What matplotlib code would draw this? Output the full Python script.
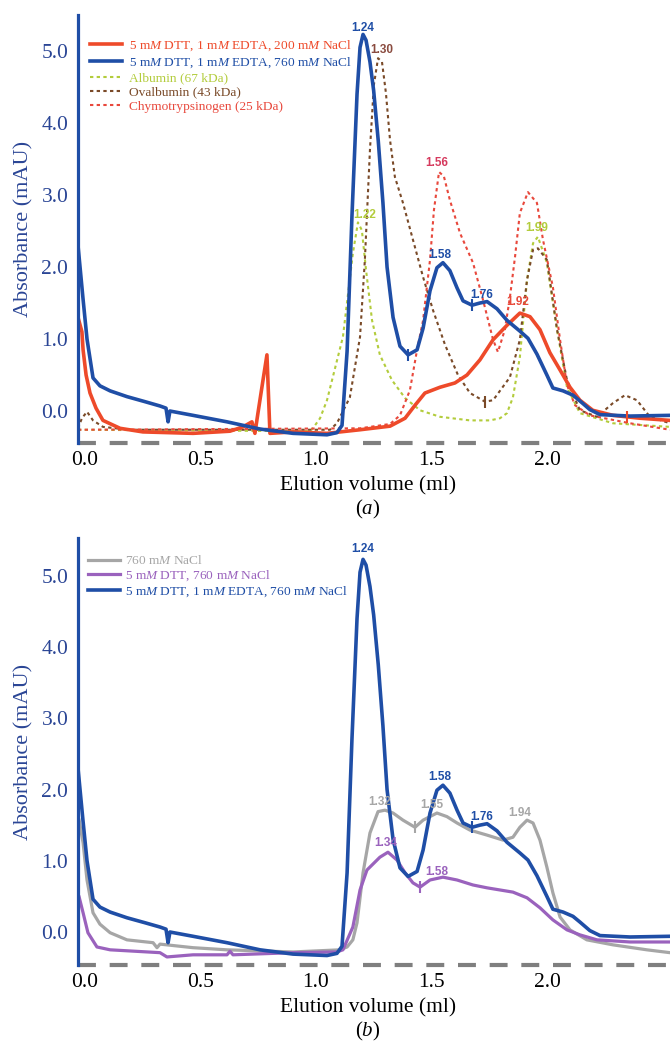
import matplotlib.pyplot as plt
import matplotlib.transforms as mtransforms
import numpy as np

plt.rcParams['font.family'] = ['Liberation Serif', 'DejaVu Serif']
plt.rcParams['mathtext.fontset'] = 'custom'
plt.rcParams['mathtext.rm'] = 'Liberation Serif'
plt.rcParams['mathtext.it'] = 'Liberation Serif:italic'

# ---- data (elution volume in ml, absorbance in mAU) ----
# 5 mM DTT, 1 mM EDTA, 760 mM NaCl (shown in both panels)
vol_blue = [0.0, 0.022, 0.039, 0.065, 0.095, 0.139, 0.212, 0.29, 0.355, 0.381, 0.390, 0.398,
            0.498, 0.645, 0.788, 0.931, 1.078, 1.121, 1.143, 1.165, 1.186, 1.208, 1.221, 1.234,
            1.247, 1.264, 1.280, 1.300, 1.320, 1.338, 1.364, 1.394, 1.429, 1.468, 1.494, 1.524,
            1.554, 1.580, 1.610, 1.641, 1.667, 1.706, 1.740, 1.771, 1.814, 1.857, 1.913, 1.948,
            1.987, 2.030, 2.056, 2.100, 2.143, 2.173, 2.216, 2.260, 2.390, 2.563]
abs_blue = [2.30, 1.55, 1.00, 0.46, 0.35, 0.28, 0.20, 0.13, 0.07, 0.04, -0.15, 0.00,
            -0.06, -0.15, -0.25, -0.31, -0.33, -0.30, -0.20, 0.83, 2.70, 4.40, 5.05, 5.23,
            5.15, 4.85, 4.45, 3.75, 2.90, 2.00, 1.30, 0.90, 0.78, 0.85, 1.15, 1.67,
            1.99, 2.06, 1.95, 1.71, 1.53, 1.47, 1.50, 1.52, 1.42, 1.26, 1.11, 1.01,
            0.79, 0.50, 0.32, 0.28, 0.22, 0.14, 0.02, -0.05, -0.07, -0.06]

# 5 mM DTT, 1 mM EDTA, 200 mM NaCl
vol_red = [0.0, 0.017, 0.022, 0.035, 0.052, 0.078, 0.108, 0.182, 0.281, 0.498, 0.658, 0.714,
           0.753, 0.766, 0.779, 0.801, 0.818, 0.831, 0.931, 1.078, 1.221, 1.351, 1.416, 1.459,
           1.502, 1.567, 1.632, 1.684, 1.740, 1.797, 1.857, 1.913, 1.957, 2.000, 2.043, 2.087,
           2.130, 2.173, 2.229, 2.316, 2.433, 2.563]
abs_red = [1.30, 1.10, 0.85, 0.50, 0.25, 0.04, -0.13, -0.24, -0.29, -0.31, -0.28, -0.22,
           -0.15, -0.31, -0.03, 0.43, 0.78, -0.31, -0.29, -0.31, -0.26, -0.21, -0.10, 0.08,
           0.25, 0.33, 0.39, 0.50, 0.71, 0.99, 1.19, 1.36, 1.31, 1.13, 0.81, 0.57,
           0.33, 0.15, 0.01, -0.06, -0.10, -0.13]

# standards
vol_alb = [0.0, 1.004, 1.017, 1.048, 1.078, 1.147, 1.190, 1.212, 1.229, 1.247, 1.273, 1.307,
           1.359, 1.416, 1.481, 1.567, 1.697, 1.784, 1.827, 1.857, 1.883, 1.913, 1.944, 1.970,
           1.991, 2.030, 2.074, 2.117, 2.173, 2.316, 2.563]
abs_alb = [-0.26, -0.28, -0.24, -0.10, 0.15, 1.03, 2.19, 2.62, 2.51, 1.96, 1.26, 0.78,
           0.43, 0.18, 0.01, -0.08, -0.13, -0.13, -0.10, -0.03, 0.19, 0.75, 1.82, 2.33,
           2.42, 2.06, 1.13, 0.33, -0.03, -0.17, -0.22]

vol_ova = [0.0, 0.017, 0.039, 0.065, 0.108, 0.22, 1.091, 1.121, 1.177, 1.221, 1.242, 1.264,
           1.281, 1.299, 1.316, 1.333, 1.351, 1.372, 1.407, 1.450, 1.494, 1.537, 1.589, 1.645,
           1.697, 1.762, 1.797, 1.870, 1.913, 1.944, 1.970, 1.991, 2.030, 2.074, 2.117, 2.173,
           2.247, 2.316, 2.368, 2.420, 2.476, 2.563]
abs_ova = [-0.24, -0.10, -0.01, -0.13, -0.22, -0.26, -0.26, -0.17, 0.19, 1.03, 2.10, 3.63,
           4.53, 4.90, 4.85, 4.42, 3.76, 3.25, 2.89, 2.38, 1.86, 1.40, 0.92, 0.50,
           0.25, 0.13, 0.15, 0.47, 0.99, 1.82, 2.24, 2.26, 2.10, 1.13, 0.43, 0.01,
           -0.08, 0.11, 0.22, 0.15, -0.08, -0.17]

vol_chy = [0.0, 1.221, 1.351, 1.394, 1.437, 1.468, 1.494, 1.524, 1.541, 1.563, 1.584, 1.610,
           1.654, 1.710, 1.753, 1.797, 1.818, 1.848, 1.870, 1.892, 1.913, 1.948, 1.987, 2.013,
           2.056, 2.087, 2.117, 2.152, 2.216, 2.390, 2.563]
abs_chy = [-0.26, -0.24, -0.18, -0.06, 0.29, 0.85, 1.26, 2.10, 2.79, 3.32, 3.26, 2.93,
           2.47, 2.06, 1.55, 0.99, 0.82, 1.13, 1.58, 2.14, 2.75, 3.04, 2.89, 2.38,
           1.72, 0.99, 0.36, 0.08, -0.06, -0.17, -0.26]

# panel b: 760 mM NaCl only, and 5 mM DTT + 760 mM NaCl
vol_grey = [0.005, 0.022, 0.039, 0.065, 0.095, 0.139, 0.212, 0.325, 0.342, 0.355, 0.498, 0.645,
            0.931, 1.134, 1.165, 1.190, 1.208, 1.234, 1.264, 1.299, 1.329, 1.364, 1.407, 1.459,
            1.494, 1.554, 1.597, 1.641, 1.697, 1.771, 1.840, 1.883, 1.913, 1.944, 1.970, 2.000,
            2.030, 2.056, 2.087, 2.130, 2.203, 2.316, 2.463, 2.563]
abs_grey = [1.57, 1.25, 0.73, 0.27, 0.11, -0.01, -0.11, -0.15, -0.22, -0.17, -0.22, -0.25,
            -0.28, -0.25, -0.21, -0.11, 0.13, 0.83, 1.39, 1.69, 1.71, 1.67, 1.57, 1.47,
            1.57, 1.67, 1.62, 1.53, 1.43, 1.36, 1.29, 1.33, 1.47, 1.57, 1.53, 1.29,
            0.91, 0.55, 0.21, 0.03, -0.11, -0.18, -0.25, -0.29]

vol_pur = [0.005, 0.022, 0.043, 0.082, 0.139, 0.355, 0.385, 0.498, 0.645, 0.658, 0.671, 0.931,
           1.121, 1.147, 1.190, 1.221, 1.251, 1.307, 1.342, 1.381, 1.416, 1.450, 1.481, 1.524,
           1.580, 1.641, 1.710, 1.771, 1.883, 1.944, 2.000, 2.056, 2.117, 2.173, 2.247, 2.390,
           2.563]
abs_pur = [0.49, 0.27, -0.01, -0.21, -0.25, -0.29, -0.35, -0.32, -0.32, -0.27, -0.32, -0.29,
           -0.28, -0.25, 0.07, 0.59, 0.87, 1.05, 1.12, 1.01, 0.83, 0.69, 0.63, 0.73,
           0.77, 0.73, 0.66, 0.62, 0.56, 0.48, 0.34, 0.17, 0.03, -0.04, -0.11, -0.14,
           -0.14]

# peak labels
peak_text_a = ['1.24', '1.30', '1.22', '1.56', '1.58', '1.76', '1.92', '1.99']
peak_x_a = [1.234, 1.316, 1.242, 1.554, 1.567, 1.749, 1.905, 1.987]
peak_y_a = [5.32, 5.01, 2.72, 3.44, 2.17, 1.61, 1.51, 2.54]
peak_text_b = ['1.24', '1.32', '1.55', '1.94', '1.58', '1.76', '1.34', '1.58']
peak_x_b = [1.234, 1.307, 1.532, 1.913, 1.567, 1.749, 1.333, 1.554]
peak_y_b = [5.37, 1.83, 1.78, 1.67, 2.18, 1.62, 1.25, 0.84]

x_ticks = [0.0, 0.5, 1.0, 1.5, 2.0]
x_labels = ['0.0', '0.5', '1.0', '1.5', '2.0']
y_ticks = [0, 1, 2, 3, 4, 5]
y_labels = ['0.0', '1.0', '2.0', '3.0', '4.0', '5.0']

# colours
BLUE = '#1f4ea6'
AXBLUE = '#2a4595'
RED = '#ee4a2a'
GREEN = '#b3cc3c'
BROWN = '#7a4a28'
CHY = '#e8483c'
GREY = '#a6a6a6'
PURPLE = '#9a62bd'

fig = plt.figure(figsize=(6.7, 10.44), dpi=100)
W, H = 670, 1044


def px_axes(left, top, right, bottom):
    return fig.add_axes([left / W, 1 - bottom / H, (right - left) / W, (bottom - top) / H])


ax_a = px_axes(78, 15, 670, 443)
ax_b = px_axes(78, 538, 670, 965)


def style(ax, ylim, tag):
    ax.set_xlim(0, 2.563)
    ax.set_ylim(*ylim)
    for s in ['top', 'right', 'bottom']:
        ax.spines[s].set_visible(False)
    ax.spines['left'].set_color(BLUE)
    ax.spines['left'].set_linewidth(2.3)
    ax.axhline(ylim[0], color='#7f7f7f', lw=3, dashes=(4.3, 3.3), clip_on=False)
    ax.set_xticks(x_ticks)
    ax.set_xticklabels(x_labels)
    ax.set_yticks(y_ticks)
    ax.set_yticklabels(y_labels)
    ax.tick_params(axis='both', length=0, labelsize=15.5)
    ax.tick_params(axis='y', pad=7, labelcolor=AXBLUE)
    ax.tick_params(axis='x', pad=6)
    # tick labels in the original sit a few pixels right of their ticks
    shift = mtransforms.ScaledTranslation(0.07, 0, fig.dpi_scale_trans)
    for lab in ax.get_xticklabels():
        lab.set_transform(lab.get_transform() + shift)
    ax.set_xlabel('Elution volume (ml)', fontsize=15.5)
    ax.xaxis.set_label_coords(0.49, -0.078)
    ax.set_ylabel('Absorbance (mAU)', fontsize=16, color=AXBLUE)
    ax.yaxis.set_label_coords(-0.076, 0.5)
    ax.text(0.49, -0.156, tag, transform=ax.transAxes, ha='center', va='center', fontsize=15)


def marks(ax, xs, vol, ab, color):
    ax.plot(xs, np.interp(xs, vol, ab), ls='none', marker='|', ms=9, mew=1.5, color=color, zorder=6)


def peak_labels(ax, texts, xs, ys, colors):
    for t, x, y, c in zip(texts, xs, ys, colors):
        ax.text(x, y, t, color=c, ha='center', va='center', fontsize=8.5,
                fontweight='bold', family=['Liberation Sans', 'DejaVu Sans'], zorder=7)


# ---- panel (a) ----
dot = dict(lw=1.5, dashes=(1.6, 1.6))
l_alb, = ax_a.plot(vol_alb, abs_alb, color=GREEN, label='Albumin (67 kDa)', **dot)
l_ova, = ax_a.plot(vol_ova, abs_ova, color=BROWN, label='Ovalbumin (43 kDa)', **dot)
l_chy, = ax_a.plot(vol_chy, abs_chy, color=CHY, label='Chymotrypsinogen (25 kDa)', **dot)
l_red, = ax_a.plot(vol_red, abs_red, color=RED, lw=2.6,
                   label='5 m$M$ DTT, 1 m$M$ EDTA, 200 m$M$ NaCl')
l_blue, = ax_a.plot(vol_blue, abs_blue, color=BLUE, lw=2.6,
                    label='5 m$M$ DTT, 1 m$M$ EDTA, 760 m$M$ NaCl')
marks(ax_a, [1.429, 1.706], vol_blue, abs_blue, BLUE)
marks(ax_a, [1.762], vol_ova, abs_ova, BROWN)
marks(ax_a, [2.377], vol_red, abs_red, RED)
peak_labels(ax_a, peak_text_a, peak_x_a, peak_y_a,
            [BLUE, '#8a4b3f', GREEN, '#d63a5e', BLUE, BLUE, '#e8493a', GREEN])
style(ax_a, (-0.444, 5.5), '($a$)')
ax_a.legend(handles=[l_red, l_blue, l_alb, l_ova, l_chy], loc='upper left',
            bbox_to_anchor=(0.020, 0.945), frameon=False, fontsize=9.6,
            handlelength=2.4, handletextpad=0.5, labelspacing=0.16,
            borderpad=0, borderaxespad=0, labelcolor='linecolor')

# ---- panel (b) ----
l_grey, = ax_b.plot(vol_grey, abs_grey, color=GREY, lw=2.3, label='760 m$M$ NaCl')
l_pur, = ax_b.plot(vol_pur, abs_pur, color=PURPLE, lw=2.3, label='5 m$M$ DTT, 760 m$M$ NaCl')
l_blue2, = ax_b.plot(vol_blue, abs_blue, color=BLUE, lw=2.6,
                     label='5 m$M$ DTT, 1 m$M$ EDTA, 760 m$M$ NaCl')
marks(ax_b, [1.459], vol_grey, abs_grey, GREY)
marks(ax_b, [1.706], vol_blue, abs_blue, BLUE)
marks(ax_b, [1.481], vol_pur, abs_pur, PURPLE)
peak_labels(ax_b, peak_text_b, peak_x_b, peak_y_b,
            [BLUE, GREY, GREY, GREY, BLUE, BLUE, PURPLE, PURPLE])
style(ax_b, (-0.463, 5.53), '($b$)')
ax_b.legend(handles=[l_grey, l_pur, l_blue2], loc='upper left',
            bbox_to_anchor=(0.017, 0.962), frameon=False, fontsize=9.6,
            handlelength=2.4, handletextpad=0.4, labelspacing=0.1,
            borderpad=0, borderaxespad=0, labelcolor='linecolor')

fig.savefig('out.png', dpi=100)
